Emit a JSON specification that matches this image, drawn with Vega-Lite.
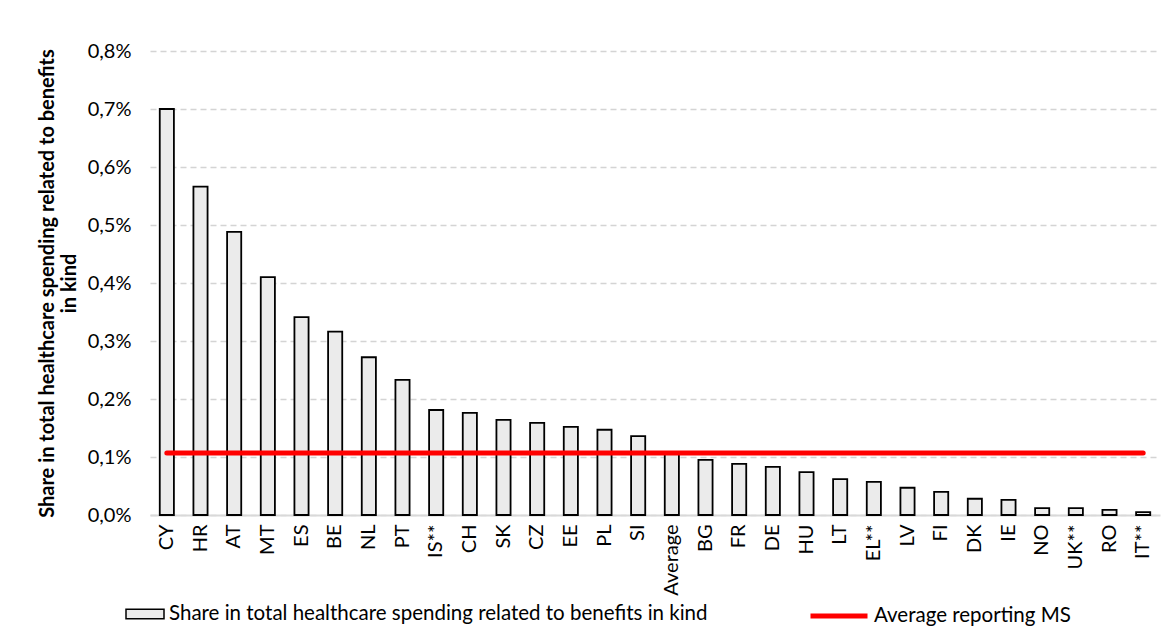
{
  "$schema": "https://vega.github.io/schema/vega-lite/v6.json",
  "width": 1010,
  "height": 464,
  "autosize": {"type": "none"},
  "padding": {"left": 150, "top": 51, "right": 16, "bottom": 124},
  "background": "white",
  "config": {
    "locale": {"number": {"decimal": ",", "thousands": ".", "grouping": [3], "currency": ["", " €"]}},
    "view": {"stroke": null},
    "font": "Lato",
    "axis": {"labelFont": "Lato", "titleFont": "Lato", "labelColor": "#000000", "titleColor": "#000000"},
    "legend": {"labelFont": "Lato"}
  },
  "data": {
    "values": [
      {"country": "CY", "share": 0.00700, "avg": 0.00107},
      {"country": "HR", "share": 0.00566, "avg": 0.00107},
      {"country": "AT", "share": 0.00488, "avg": 0.00107},
      {"country": "MT", "share": 0.00410, "avg": 0.00107},
      {"country": "ES", "share": 0.00341, "avg": 0.00107},
      {"country": "BE", "share": 0.00316, "avg": 0.00107},
      {"country": "NL", "share": 0.00272, "avg": 0.00107},
      {"country": "PT", "share": 0.00233, "avg": 0.00107},
      {"country": "IS**", "share": 0.00181, "avg": 0.00107},
      {"country": "CH", "share": 0.00176, "avg": 0.00107},
      {"country": "SK", "share": 0.00164, "avg": 0.00107},
      {"country": "CZ", "share": 0.00159, "avg": 0.00107},
      {"country": "EE", "share": 0.00152, "avg": 0.00107},
      {"country": "PL", "share": 0.00147, "avg": 0.00107},
      {"country": "SI", "share": 0.00136, "avg": 0.00107},
      {"country": "Average", "share": 0.00107, "avg": 0.00107},
      {"country": "BG", "share": 0.00095, "avg": 0.00107},
      {"country": "FR", "share": 0.00088, "avg": 0.00107},
      {"country": "DE", "share": 0.00083, "avg": 0.00107},
      {"country": "HU", "share": 0.00074, "avg": 0.00107},
      {"country": "LT", "share": 0.00062, "avg": 0.00107},
      {"country": "EL**", "share": 0.00057, "avg": 0.00107},
      {"country": "LV", "share": 0.00047, "avg": 0.00107},
      {"country": "FI", "share": 0.00040, "avg": 0.00107},
      {"country": "DK", "share": 0.00028, "avg": 0.00107},
      {"country": "IE", "share": 0.00026, "avg": 0.00107},
      {"country": "NO", "share": 0.00012, "avg": 0.00107},
      {"country": "UK**", "share": 0.00012, "avg": 0.00107},
      {"country": "RO", "share": 0.00009, "avg": 0.00107},
      {"country": "IT**", "share": 0.00005, "avg": 0.00107}
    ]
  },
  "encoding": {
    "x": {
      "field": "country",
      "type": "nominal",
      "sort": null,
      "scale": {"paddingInner": 0.58, "paddingOuter": 0.29},
      "axis": {
        "title": null,
        "labelAngle": -90,
        "labelFontSize": 20,
        "labelPadding": 9,
        "ticks": false,
        "domainColor": "#d9d9d9",
        "domainWidth": 2,
        "grid": false
      }
    }
  },
  "layer": [
    {
      "mark": {"type": "bar", "stroke": "#000000", "strokeWidth": 1.8},
      "encoding": {
        "y": {
          "field": "share",
          "type": "quantitative",
          "scale": {"domain": [0, 0.008]},
          "axis": {
            "title": ["Share in total healthcare spending related to benefits", "in kind"],
            "titleFontSize": 20,
            "titleFontWeight": "bold",
            "titlePadding": 8,
            "values": [0, 0.001, 0.002, 0.003, 0.004, 0.005, 0.006, 0.007, 0.008],
            "format": ".1%",
            "labelFontSize": 20,
            "labelPadding": 19,
            "ticks": false,
            "domain": false,
            "grid": true,
            "gridColor": "#d4d4d4",
            "gridDash": [6, 4],
            "gridWidth": 1.5
          }
        },
        "fill": {
          "datum": "Share in total healthcare spending related to benefits in kind",
          "scale": {"range": ["#ebebeb"]},
          "legend": {
            "title": null,
            "orient": "none",
            "legendX": -25,
            "legendY": 543,
            "symbolType": "M-1,-0.25H1V0.25H-1Z",
            "symbolSize": 1444,
            "symbolStrokeColor": "#000000",
            "symbolStrokeWidth": 1.5,
            "labelFontSize": 20.5,
            "labelColor": "#000000",
            "labelLimit": 800
          }
        }
      }
    },
    {
      "mark": {"type": "line", "strokeWidth": 5, "strokeCap": "round"},
      "encoding": {
        "y": {"field": "avg", "type": "quantitative"},
        "stroke": {
          "datum": "Average reporting MS",
          "scale": {"range": ["#ff0000"]},
          "legend": {
            "title": null,
            "orient": "none",
            "legendX": 658,
            "legendY": 534,
            "symbolType": "stroke",
            "symbolSize": 3249,
            "symbolStrokeWidth": 5,
            "labelFontSize": 20.5,
            "labelColor": "#000000",
            "labelLimit": 400
          }
        }
      }
    }
  ]
}
